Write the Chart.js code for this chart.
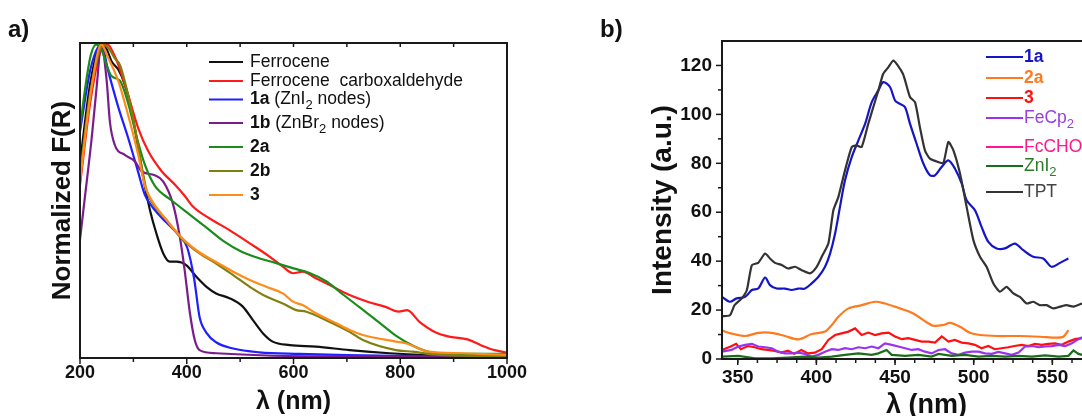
<!DOCTYPE html>
<html>
<head>
<meta charset="utf-8">
<script src="https://cdn.jsdelivr.net/npm/chart.js@4.4.1/dist/chart.umd.min.js"></script>
<style>
  html, body { margin: 0; padding: 0; background: #fff; overflow: hidden; width: 1082px; height: 416px; }
  .wrap { position: relative; width: 1082px; height: 416px; overflow: hidden; }
  canvas { position: absolute; top: 0; }
  #chartA { left: 0; }
  #chartB { left: 540px; }
  .tag { position: absolute; font: bold 24px 'Liberation Sans', Arial, sans-serif; color: #111; line-height: 24px; }
</style>
</head>
<body>
<div class="wrap">
  <canvas id="chartA" width="540" height="416"></canvas>
  <canvas id="chartB" width="640" height="416"></canvas>
  <div class="tag" style="left:8px; top:17px;">a)</div>
  <div class="tag" style="left:600px; top:17px;">b)</div>
</div>
<script>
// ---- a) normalized F(R) ----
const ferroceneX = [200, 220, 240, 250, 259, 272, 284, 297, 309, 321, 331, 343, 356, 368, 381, 399, 418, 437, 455, 480, 505, 524, 543, 561, 593, 642, 705, 780, 850, 920, 1000];
const ferroceneY = [0.62, 0.88, 0.995, 0.98, 0.942, 0.915, 0.868, 0.783, 0.667, 0.55, 0.47, 0.396, 0.332, 0.306, 0.306, 0.295, 0.258, 0.226, 0.205, 0.19, 0.163, 0.12, 0.078, 0.052, 0.041, 0.036, 0.025, 0.015, 0.009, 0.006, 0.005];

const fcchoX = [200, 220, 240, 252, 262, 272, 290, 309, 328, 353, 378, 396, 412, 443, 480, 518, 555, 580, 599, 617, 642, 680, 705, 740, 771, 797, 813, 836, 868, 894, 926, 952, 977, 1000];
const fcchoY = [0.55, 0.82, 0.98, 0.995, 0.97, 0.93, 0.836, 0.73, 0.656, 0.593, 0.55, 0.515, 0.48, 0.443, 0.406, 0.364, 0.322, 0.29, 0.269, 0.274, 0.253, 0.221, 0.2, 0.178, 0.163, 0.147, 0.152, 0.115, 0.08, 0.067, 0.059, 0.04, 0.025, 0.017];

const mof1aX = [200, 220, 240, 253, 272, 290, 309, 321, 331, 347, 362, 385, 401, 414, 424, 437, 455, 487, 536, 611, 700, 800, 1000];
const mof1aY = [0.72, 0.92, 0.995, 0.91, 0.795, 0.70, 0.59, 0.52, 0.49, 0.456, 0.43, 0.39, 0.35, 0.25, 0.13, 0.08, 0.05, 0.03, 0.018, 0.013, 0.009, 0.007, 0.005];

const mof1bX = [200, 209, 222, 231, 240, 250, 256, 265, 284, 303, 315, 340, 356, 374, 387, 396, 406, 415, 424, 455, 550, 700, 1000];
const mof1bY = [0.376, 0.508, 0.70, 0.857, 0.995, 0.88, 0.75, 0.677, 0.645, 0.624, 0.593, 0.58, 0.56, 0.49, 0.385, 0.28, 0.142, 0.057, 0.025, 0.015, 0.008, 0.005, 0.003];

const mof2aX = [200, 210, 220, 230, 240, 250, 259, 275, 290, 308, 321, 340, 372, 405, 437, 469, 501, 533, 566, 597, 630, 662, 694, 726, 759, 791, 823, 855, 900, 1000];
const mof2aY = [0.73, 0.86, 0.96, 0.995, 0.98, 0.93, 0.895, 0.88, 0.81, 0.69, 0.616, 0.547, 0.5, 0.456, 0.414, 0.371, 0.339, 0.318, 0.302, 0.286, 0.27, 0.243, 0.2, 0.158, 0.115, 0.072, 0.04, 0.019, 0.013, 0.013];

const mof2bX = [200, 220, 245, 255, 265, 275, 290, 303, 315, 325, 331, 362, 393, 424, 455, 487, 518, 549, 580, 605, 624, 661, 705, 730, 792, 823, 873, 930, 1000];
const mof2bY = [0.58, 0.85, 0.995, 0.98, 0.952, 0.93, 0.836, 0.73, 0.614, 0.53, 0.505, 0.438, 0.375, 0.332, 0.30, 0.263, 0.226, 0.195, 0.173, 0.152, 0.147, 0.12, 0.083, 0.057, 0.025, 0.02, 0.01, 0.007, 0.005];

const mof3X = [200, 220, 240, 253, 272, 290, 309, 321, 331, 362, 393, 424, 455, 487, 518, 549, 580, 599, 617, 642, 680, 705, 730, 792, 810, 854, 916, 1000];
const mof3Y = [0.56, 0.84, 0.995, 0.952, 0.878, 0.772, 0.645, 0.55, 0.51, 0.438, 0.378, 0.335, 0.305, 0.274, 0.248, 0.226, 0.205, 0.179, 0.168, 0.142, 0.11, 0.089, 0.073, 0.052, 0.047, 0.02, 0.015, 0.01];

const legendA = ['Ferrocene', 'Ferrocene  carboxaldehyde', '**1a** (ZnI_2 nodes)', '**1b** (ZnBr_2 nodes)', '**2a**', '**2b**', '**3**'];

// ---- b) emission intensity (a.u.) ----
const em1aX = [340, 345, 349.3, 354.7, 359, 363, 367.4, 370.5, 374.8, 380, 384.3, 388.5, 392.8, 397, 401.3, 405.5, 408.7, 411.9, 415, 418.2, 422.5, 426.7, 431, 435.2, 439.4, 442.5, 446.8, 450, 453.1, 456.3, 459.5, 463.7, 468, 472.2, 475.4, 479.6, 483.9, 488.1, 492.4, 495.5, 500.8, 505, 509.3, 514.6, 519.9, 526.2, 531.5, 537.9, 544.2, 549.5, 554.9, 560.2];
const em1aY = [25.4, 23.4, 24.8, 25.4, 28.2, 28.8, 33.3, 30.2, 28.8, 28.8, 28.2, 28.8, 28.8, 30.9, 33.6, 37.7, 43.1, 51.3, 62.2, 73.1, 82.6, 89.4, 96.2, 105, 109.8, 113.2, 111.2, 105.7, 104.3, 103, 96.2, 88, 79.9, 75.1, 75.1, 78.5, 81.2, 77.8, 71.7, 64.9, 60.8, 54, 47.9, 45.2, 45.2, 47.2, 44.5, 41.8, 41.1, 37.7, 39.3, 41.1];

const em2aX = [340, 345.6, 354.7, 363, 371.6, 380, 388.5, 397, 405.5, 409.8, 414, 420.4, 428.8, 437.3, 443.6, 450, 453, 461.6, 468, 474.3, 480.7, 484.9, 491.3, 497.6, 504, 514.6, 529.4, 542.1, 552.7, 557, 560.2];
const em2aY = [11.6, 10.5, 9.4, 10.7, 10.7, 9.4, 8, 10.2, 11.2, 13.9, 17.3, 20.7, 22, 23.4, 22.7, 21.4, 20.7, 18.6, 15.9, 13.6, 13.9, 14.8, 13.2, 10.7, 9.8, 9.4, 9.4, 9.1, 8.7, 9.1, 11.8];

const em3X = [340, 345.5, 349, 352, 356.5, 360.7, 365, 369, 373.5, 377.7, 382, 386, 390.4, 394.7, 399, 403.4, 407.6, 411.9, 416, 420.4, 424.6, 428.8, 433, 437.3, 441.5, 445.8, 450, 454.3, 458.5, 462.7, 467, 471.2, 475.4, 479.7, 484, 488, 492.4, 496.6, 500.8, 505, 509.3, 513.5, 517.7, 522, 526, 530.5, 534.7, 539, 543.2, 547.4, 551.7, 556, 560.2, 564.4, 569];
const em3Y = [3.7, 5.1, 6.2, 4, 5.3, 4.8, 4, 3.7, 3.3, 2.6, 3.4, 2.1, 3.7, 2.3, 2.6, 4, 7.8, 9.8, 10.5, 11.2, 12.5, 9.8, 10.8, 9.8, 10.5, 10.8, 9.2, 8.1, 8.5, 7.8, 7.1, 7.1, 6.7, 9.2, 7.1, 7.8, 6.7, 6.4, 5.8, 4.4, 5.3, 4, 4.4, 4.8, 5.3, 5.8, 5.3, 6.2, 5.8, 6.2, 6.4, 5.8, 7.1, 8.1, 8.5];

const feCp2X = [340, 346, 350.4, 354.7, 359, 363, 367.4, 371.6, 375.8, 380, 384.3, 388.5, 392.8, 397, 401.3, 405.5, 409.8, 414, 418.2, 422.5, 426.7, 431, 435.2, 439.4, 443.6, 447.9, 452.1, 456.4, 460.6, 464.8, 469, 473.3, 477.6, 481.8, 486, 490.3, 494.5, 498.8, 503, 507.2, 511.5, 515.7, 520, 524.2, 528.5, 532.7, 537, 541.2, 545.4, 549.7, 554, 558.2, 562.4, 566.6, 569];
const feCp2Y = [3, 3.7, 5.1, 5.8, 6.2, 5.1, 4.8, 4.4, 3, 2.3, 2.3, 2.6, 2.1, 1, 1.7, 3, 4, 3.7, 4.4, 4, 4.8, 4.4, 5.1, 4.4, 6.4, 5.8, 5.1, 4.4, 3.7, 4, 3, 2.3, 3.7, 4, 2.3, 1.7, 2.6, 3, 3, 2.3, 2.1, 2.9, 2.3, 1.7, 2.6, 5.1, 5.3, 4.8, 5.1, 5.3, 5.8, 5.3, 6.4, 8.1, 8.9];

// FcCHO is not visible: it lies on the baseline
const fcCHOX = [340, 400, 450, 500, 569];
const fcCHOY = [0, 0, 0, 0, 0];

const znI2X = [340, 350.4, 361, 371.6, 382, 392.8, 401.3, 409.8, 418.2, 426.7, 435.2, 439.4, 444.6, 447.9, 456.4, 464.8, 473.3, 477.6, 486, 494.5, 503, 511.5, 520, 528.5, 537, 545.4, 554, 560.2, 563.4, 566.6, 569];
const znI2Y = [1, 1.3, 0.3, 0.3, 0.6, 1, 0.6, 1, 1.7, 2.3, 1.7, 2.3, 3.7, 1.7, 1.3, 1.7, 1, 2.1, 1.3, 1.7, 1, 1.3, 1, 1.3, 1, 1.5, 1, 1.3, 3.5, 2.1, 1.7];

const tptX = [340, 345, 348, 352.6, 355.8, 359, 363, 367.4, 370.5, 373.7, 378, 382, 386.5, 390.7, 396, 400.2, 403.4, 407.6, 410.8, 414, 418.2, 422.5, 425.6, 428.8, 433, 436.2, 439.4, 442.5, 445.8, 449, 455, 459.5, 462.7, 465.8, 469, 472.2, 477.5, 480.7, 483.9, 487.1, 491.3, 495.5, 499.8, 504, 508.2, 512.5, 516.7, 520.9, 525.2, 529.4, 533.6, 537.9, 542.1, 546.4, 550.6, 554.9, 559.1, 563.4, 568.9];
const tptY = [17.5, 17.9, 22, 24.8, 28.2, 38.4, 39.3, 43.1, 41.1, 39.3, 38.4, 37, 37.7, 36.3, 35, 37.7, 41.8, 47.2, 60.8, 66.3, 77.1, 86.7, 87.3, 86.7, 96.2, 103, 109.8, 116.6, 119.3, 122, 116.6, 107.1, 105, 94.8, 85.3, 81.9, 80.5, 80.1, 88.7, 85.3, 75.8, 62.2, 48.6, 41.8, 37.7, 30.9, 27.5, 29.5, 26.8, 25.4, 22.7, 23.4, 22, 22, 20.7, 21.4, 22, 21.4, 22.7];

const legendB = ['**1a**', '**2a**', '**3**', 'FeCp_2', 'FcCHO', 'ZnI_2', 'TPT'];

const family = "'Liberation Sans', Arial, sans-serif";

function pts(xs, ys) {
    return xs.map((x, i) => ({ x: x, y: ys[i] }));
}

// draws "**bold** plain _2" style text
function drawRich(ctx, str, x, y, size, color) {
    const parts = str.split(/(\*\*[^*]+\*\*|_\d)/).filter(p => p.length);
    ctx.fillStyle = color;
    ctx.textBaseline = 'middle';
    ctx.textAlign = 'left';
    parts.forEach(p => {
        let bold = false, sub = false, t = p;
        if (p.startsWith('**')) { bold = true; t = p.slice(2, -2); }
        else if (p.startsWith('_')) { sub = true; t = p.slice(1); }
        const s = sub ? Math.round(size * 0.72) : size;
        ctx.font = (bold ? 'bold ' : '') + s + 'px ' + family;
        ctx.fillText(t, x, y + (sub ? size * 0.35 : 0));
        x += ctx.measureText(t).width;
    });
}

const insideLegend = {
    id: 'insideLegend',
    afterDraw(chart, args, opts) {
        const ctx = chart.ctx;
        ctx.save();
        opts.labels.forEach((lab, i) => {
            const y = opts.rowY[i];
            ctx.strokeStyle = opts.colors[i];
            ctx.lineWidth = 2;
            ctx.beginPath();
            ctx.moveTo(opts.x, y);
            ctx.lineTo(opts.x + opts.len, y);
            ctx.stroke();
            drawRich(ctx, lab, opts.x + opts.len + opts.gap, y, opts.size, opts.textColors ? opts.textColors[i] : '#111');
        });
        ctx.restore();
    }
};

// box round the plot + tick marks placed through the scales
const frame = {
    id: 'frame',
    afterDatasetsDraw(chart, args, opts) {
        const { ctx, chartArea: a, scales } = chart;
        ctx.save();
        ctx.strokeStyle = '#1a1a1a';
        ctx.lineWidth = 2;
        ctx.strokeRect(a.left, a.top, a.right - a.left, a.bottom - a.top);
        ctx.lineWidth = 1.5;
        (opts.ticks || []).forEach(t => {
            const sc = scales[t.axis];
            for (let v = t.from; v <= t.to + 1e-9; v += t.step) {
                const p = sc.getPixelForValue(v);
                ctx.beginPath();
                if (t.side === 'bottom') { ctx.moveTo(p, a.bottom); ctx.lineTo(p, a.bottom + t.len); }
                if (t.side === 'top') { ctx.moveTo(p, a.top); ctx.lineTo(p, a.top + t.len); }
                if (t.side === 'left') { ctx.moveTo(a.left, p); ctx.lineTo(a.left - t.len, p); }
                ctx.stroke();
            }
        });
        ctx.restore();
    }
};

const colorsA = ['#111111', '#ff1a1a', '#1f1fff', '#7b1c8c', '#1a8c1a', '#808010', '#ff8c1a'];
const xsA = [ferroceneX, fcchoX, mof1aX, mof1bX, mof2aX, mof2bX, mof3X];
const ysA = [ferroceneY, fcchoY, mof1aY, mof1bY, mof2aY, mof2bY, mof3Y];

new Chart(document.getElementById('chartA'), {
    type: 'line',
    data: {
        datasets: xsA.map((xs, i) => ({
            label: legendA[i].replace(/\*|_/g, ''),
            data: pts(xs, ysA[i]),
            borderColor: colorsA[i],
            borderWidth: 2.2,
            pointRadius: 0,
            cubicInterpolationMode: 'monotone',
            order: -i
        }))
    },
    options: {
        responsive: false,
        animation: false,
        events: [],
        layout: { padding: { top: 43, right: 33, left: 0, bottom: 0 } },
        scales: {
            x: {
                type: 'linear', min: 200, max: 1000,
                afterFit: s => { s.height = 58; },
                grid: { display: false, drawTicks: false },
                border: { display: false },
                ticks: {
                    stepSize: 200, padding: 4, maxRotation: 0, autoSkip: false, color: '#111',
                    font: { family: family, size: 18, weight: 'bold' },
                    callback: v => String(v)
                },
                title: {
                    display: true, text: 'λ (nm)', color: '#111',
                    font: { family: family, size: 25, weight: 'bold', lineHeight: 1 },
                    padding: { top: 0, bottom: 1.5 }
                }
            },
            y: {
                min: 0, max: 1,
                afterFit: s => { s.width = 80; },
                grid: { display: false, drawTicks: false },
                border: { display: false },
                ticks: { display: false },
                title: {
                    display: true, text: 'Normalized F(R)', color: '#111',
                    font: { family: family, size: 26, weight: 'bold', lineHeight: 1 },
                    padding: { top: 50, bottom: 0 }
                }
            }
        },
        plugins: {
            legend: { display: false },
            tooltip: { enabled: false },
            insideLegend: {
                labels: legendA, colors: colorsA,
                x: 209, len: 34, gap: 7, size: 17.5,
                rowY: [62, 81, 99.5, 123, 147, 171, 195]
            },
            frame: {
                ticks: [
                    { axis: 'x', side: 'bottom', from: 200, to: 1000, step: 200, len: 6 },
                    { axis: 'x', side: 'bottom', from: 300, to: 900, step: 200, len: 4 },
                    { axis: 'x', side: 'top', from: 300, to: 900, step: 100, len: 4 }
                ]
            }
        }
    },
    plugins: [frame, insideLegend]
});

const colorsB = ['#1515c8', '#ff7a1f', '#ff1010', '#9933ee', '#ff1493', '#1a6e1a', '#333333'];
const textColorsB = ['#1515c8', '#ff7a1f', '#ff1010', '#9a3ee0', '#ff1a8c', '#2a7a2a', '#444444'];
const xsB = [em1aX, em2aX, em3X, feCp2X, fcCHOX, znI2X, tptX];
const ysB = [em1aY, em2aY, em3Y, feCp2Y, fcCHOY, znI2Y, tptY];
const smoothB = [0.3, 0.3, 0, 0, 0, 0, 0.2];

new Chart(document.getElementById('chartB'), {
    type: 'line',
    data: {
        datasets: xsB.map((xs, i) => ({
            label: legendB[i].replace(/\*|_/g, ''),
            data: pts(xs, ysB[i]),
            borderColor: colorsB[i],
            borderWidth: 2.2,
            pointRadius: 0,
            tension: smoothB[i],
            order: i === 6 ? -10 : (i === 0 ? -9 : -i)
        }))
    },
    options: {
        responsive: false,
        animation: false,
        events: [],
        layout: { padding: { top: 41, right: 49, left: 0, bottom: 0 } },
        scales: {
            x: {
                type: 'linear', min: 340, max: 600,
                afterFit: s => { s.height = 57; },
                grid: { display: false, drawTicks: false },
                border: { display: false },
                ticks: {
                    stepSize: 50, includeBounds: false, padding: 7, maxRotation: 0, autoSkip: false, color: '#111',
                    font: { family: family, size: 19, weight: 'bold' },
                    callback: v => String(v)
                },
                title: {
                    display: true, text: 'λ (nm)', color: '#111',
                    font: { family: family, size: 27, weight: 'bold', lineHeight: 0.8 },
                    padding: { top: 0, bottom: 0 }
                }
            },
            y: {
                min: 0, max: 130,
                afterFit: s => { s.width = 182; },
                grid: { display: false, drawTicks: false },
                border: { display: false },
                ticks: {
                    stepSize: 20, includeBounds: false, padding: 10, color: '#111',
                    font: { family: family, size: 19, weight: 'bold' }
                },
                title: {
                    display: true, text: 'Intensity (a.u.)', color: '#111',
                    font: { family: family, size: 28, weight: 'bold', lineHeight: 1 },
                    padding: { top: 109, bottom: 0 }
                }
            }
        },
        plugins: {
            legend: { display: false },
            tooltip: { enabled: false },
            insideLegend: {
                labels: legendB, colors: colorsB, textColors: textColorsB,
                x: 446, len: 37, gap: 1, size: 17.5,
                rowY: [57, 78, 98, 118, 147, 166, 192]
            },
            frame: {
                ticks: [
                    { axis: 'y', side: 'left', from: 0, to: 120, step: 20, len: 6 },
                    { axis: 'y', side: 'left', from: 10, to: 110, step: 20, len: 4 },
                    { axis: 'x', side: 'bottom', from: 350, to: 600, step: 50, len: 6 },
                    { axis: 'x', side: 'bottom', from: 350, to: 600, step: 12.5, len: 4 }
                ]
            }
        }
    },
    plugins: [frame, insideLegend]
});
</script>
</body>
</html>
